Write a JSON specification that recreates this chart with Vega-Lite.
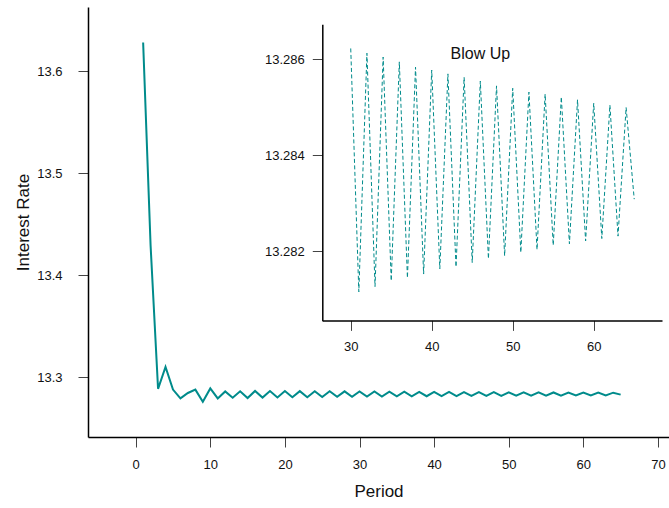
{
  "$schema": "https://vega.github.io/schema/vega-lite/v6.json",
  "autosize": {"type": "none"},
  "padding": {"left": 88, "top": 7, "right": 0, "bottom": 71},
  "width": 581,
  "height": 430,
  "background": "white",
  "config": {
    "view": {"stroke": null},
    "font": "Liberation Sans",
    "axis": {
      "grid": false,
      "domainColor": "black",
      "domainWidth": 1.5,
      "tickColor": "#444",
      "tickWidth": 1,
      "tickSize": 10,
      "labelFont": "Liberation Sans",
      "labelColor": "#111",
      "labelFontSize": 13,
      "titleFont": "Liberation Sans",
      "titleFontWeight": "normal",
      "titleColor": "#111",
      "titleFontSize": 17
    }
  },
  "datasets": {
    "series": [
      {"period": 1, "rate": 13.628},
      {"period": 2, "rate": 13.429},
      {"period": 3, "rate": 13.2888},
      {"period": 4, "rate": 13.3102},
      {"period": 5, "rate": 13.288},
      {"period": 6, "rate": 13.2794},
      {"period": 7, "rate": 13.2847},
      {"period": 8, "rate": 13.288},
      {"period": 9, "rate": 13.2762},
      {"period": 10, "rate": 13.2892},
      {"period": 11, "rate": 13.2794},
      {"period": 12, "rate": 13.2862},
      {"period": 13, "rate": 13.2801},
      {"period": 14, "rate": 13.2864},
      {"period": 15, "rate": 13.2797},
      {"period": 16, "rate": 13.2867},
      {"period": 17, "rate": 13.2802},
      {"period": 18, "rate": 13.28665},
      {"period": 19, "rate": 13.2803},
      {"period": 20, "rate": 13.2866},
      {"period": 21, "rate": 13.2805},
      {"period": 22, "rate": 13.28652},
      {"period": 23, "rate": 13.2806},
      {"period": 24, "rate": 13.28645},
      {"period": 25, "rate": 13.2807},
      {"period": 26, "rate": 13.28638},
      {"period": 27, "rate": 13.2809},
      {"period": 28, "rate": 13.2863},
      {"period": 29, "rate": 13.281},
      {"period": 30, "rate": 13.28623},
      {"period": 31, "rate": 13.28116},
      {"period": 32, "rate": 13.28613},
      {"period": 33, "rate": 13.28127},
      {"period": 34, "rate": 13.28605},
      {"period": 35, "rate": 13.28139},
      {"period": 36, "rate": 13.28595},
      {"period": 37, "rate": 13.28145},
      {"period": 38, "rate": 13.28584},
      {"period": 39, "rate": 13.28153},
      {"period": 40, "rate": 13.28578},
      {"period": 41, "rate": 13.28164},
      {"period": 42, "rate": 13.2857},
      {"period": 43, "rate": 13.28168},
      {"period": 44, "rate": 13.28563},
      {"period": 45, "rate": 13.28177},
      {"period": 46, "rate": 13.28555},
      {"period": 47, "rate": 13.28185},
      {"period": 48, "rate": 13.28545},
      {"period": 49, "rate": 13.28191},
      {"period": 50, "rate": 13.2854},
      {"period": 51, "rate": 13.28198},
      {"period": 52, "rate": 13.28532},
      {"period": 53, "rate": 13.28204},
      {"period": 54, "rate": 13.28528},
      {"period": 55, "rate": 13.28213},
      {"period": 56, "rate": 13.28522},
      {"period": 57, "rate": 13.28216},
      {"period": 58, "rate": 13.28516},
      {"period": 59, "rate": 13.28222},
      {"period": 60, "rate": 13.28509},
      {"period": 61, "rate": 13.28227},
      {"period": 62, "rate": 13.28505},
      {"period": 63, "rate": 13.28232},
      {"period": 64, "rate": 13.285},
      {"period": 65, "rate": 13.28309}
    ],
    "label": [{"text": "Blow Up", "period": 46, "rate": 13.28611}]
  },
  "layer": [
    {
      "data": {"name": "series"},
      "mark": {"type": "line", "color": "#008B8B", "strokeWidth": 2},
      "encoding": {
        "x": {
          "field": "period", "type": "quantitative",
          "scale": {"domain": [-6.39, 71.48], "nice": false, "zero": false},
          "axis": {"orient": "bottom", "title": "Period", "values": [0, 10, 20, 30, 40, 50, 60, 70], "labelPadding": 11, "titlePadding": 12}
        },
        "y": {
          "field": "rate", "type": "quantitative",
          "scale": {"domain": [13.2416, 13.6627], "nice": false, "zero": false},
          "axis": {"orient": "left", "title": "Interest Rate", "values": [13.3, 13.4, 13.5, 13.6], "format": ".1f", "labelPadding": 16, "titlePadding": 4}
        }
      }
    },
    {
      "layer": [
        {
          "data": {"name": "series"},
          "transform": [{"filter": "datum.period >= 30"}],
          "mark": {"type": "line", "color": "#008B8B", "strokeWidth": 1, "strokeDash": [4, 2.5]},
          "encoding": {
            "x": {
              "field": "period", "type": "quantitative",
              "scale": {"domain": [26.49, 68.43], "range": [234.3, 574], "nice": false, "zero": false},
              "axis": {"orient": "bottom", "offset": -116.6, "title": null, "values": [30, 40, 50, 60], "labelPadding": 10}
            },
            "y": {
              "field": "rate", "type": "quantitative",
              "scale": {"domain": [13.280558, 13.286733], "range": [313.7, 17.3], "nice": false, "zero": false},
              "axis": {"orient": "left", "offset": -234.3, "title": null, "values": [13.282, 13.284, 13.286], "format": ".3f", "labelPadding": 8}
            }
          }
        },
        {
          "data": {"name": "label"},
          "mark": {"type": "text", "font": "Liberation Sans", "fontSize": 16, "color": "#111", "align": "center", "baseline": "middle"},
          "encoding": {
            "x": {"field": "period", "type": "quantitative"},
            "y": {"field": "rate", "type": "quantitative"},
            "text": {"field": "text"}
          }
        }
      ]
    }
  ],
  "resolve": {"scale": {"x": "independent", "y": "independent"}, "axis": {"x": "independent", "y": "independent"}}
}
